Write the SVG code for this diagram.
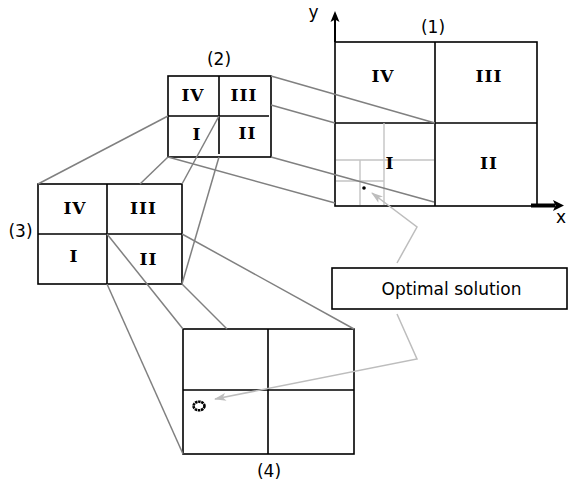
<svg xmlns="http://www.w3.org/2000/svg" width="573" height="486" viewBox="0 0 573 486">
  <style>
    .box { fill: #fff; stroke: #000; stroke-width: 1.6; }
    .div { fill: none; stroke: #000; stroke-width: 1.6; }
    .sub { fill: none; stroke: #c4c4c4; stroke-width: 1.4; }
    .link { fill: none; stroke: #808080; stroke-width: 1.5; }
    .pointer { fill: none; stroke: #bdbdbd; stroke-width: 1.5; }
    .num { font-family: "DejaVu Serif", "Liberation Serif", serif; font-weight: bold; font-size: 17px; letter-spacing: 1px; text-anchor: middle; fill: #000; }
    .lbl { font-family: "DejaVu Sans", "Liberation Sans", sans-serif; font-size: 17px; text-anchor: middle; fill: #000; }
  </style>
  <defs>
    <marker id="head" markerWidth="12" markerHeight="8" refX="11" refY="4" orient="auto" markerUnits="userSpaceOnUse">
      <path d="M0,0 L12,4 L0,8 L3,4 Z" fill="#bdbdbd"/>
    </marker>
  </defs>

  <rect width="573" height="486" fill="#fff"/>

  <!-- (1) full search domain with coordinate axes -->
  <g id="domain-1">
    <rect class="box" x="335" y="42" width="202" height="164"/>
    <path class="div" d="M435,42 V206 M335,123 H537"/>
    <!-- finer cells inside quadrant I -->
    <path class="sub" d="M384,123 V205 M336,160 H434 M360,160 V205 M336,181 H384"/>
    <circle cx="364" cy="188" r="1.8" fill="#000"/>
    <!-- axes -->
    <path d="M335,42 V19" stroke="#000" stroke-width="2" fill="none"/>
    <path d="M335,11 L339.5,22 L335,19.5 L330.5,22 Z" fill="#000"/>
    <path d="M531,205.5 H555" stroke="#000" stroke-width="4" fill="none"/>
    <path d="M564,205.5 L553,200 L555.5,205.5 L553,211 Z" fill="#000"/>
    <text class="lbl" x="313.5" y="18">y</text>
    <text class="lbl" x="561" y="223">x</text>
    <text class="lbl" x="433" y="33">(1)</text>
    <text class="num" x="383" y="82">IV</text>
    <text class="num" x="489" y="82">III</text>
    <text class="num" x="390" y="169">I</text>
    <text class="num" x="489" y="169">II</text>
  </g>

  <!-- (2) quadrant I of (1), enlarged -->
  <g id="domain-2">
    <rect class="box" x="168" y="76" width="103" height="81"/>
    <path class="div" d="M219,76 V154 M168,116 H269"/>
    <text class="lbl" x="219" y="65">(2)</text>
    <text class="num" x="193" y="101">IV</text>
    <text class="num" x="244" y="101">III</text>
    <text class="num" x="197" y="140">I</text>
    <text class="num" x="247.5" y="139">II</text>
  </g>

  <!-- (3) quadrant I of (2), enlarged -->
  <g id="domain-3">
    <rect class="box" x="38" y="184" width="144" height="100"/>
    <path class="div" d="M107,184 V284 M38,234 H182"/>
    <text class="lbl" x="20.5" y="237">(3)</text>
    <text class="num" x="75" y="214">IV</text>
    <text class="num" x="143.5" y="214">III</text>
    <text class="num" x="74" y="262">I</text>
    <text class="num" x="148.5" y="265">II</text>
  </g>

  <!-- (4) quadrant II of (3), enlarged -->
  <g id="domain-4">
    <rect class="box" x="183" y="329" width="171" height="125"/>
    <path class="div" d="M268,329 V454 M183,390 H354"/>
    <ellipse cx="199" cy="406" rx="5.5" ry="4.3" fill="none" stroke="#000" stroke-width="2.6" stroke-dasharray="2.5 0.6"/>
    <text class="lbl" x="269" y="477">(4)</text>
  </g>

  <!-- callout -->
  <g id="optimal-solution">
    <rect class="box" x="332" y="268" width="235" height="41"/>
    <text class="lbl" x="451.5" y="295">Optimal solution</text>
  </g>

  <!-- zoom projection lines and callout pointers -->
  <g id="connectors">
    <path class="link" d="M271,76 L435,123"/>
    <path class="link" d="M271,105 L335,123"/>
    <path class="link" d="M271,157 L434,202"/>
    <path class="link" d="M168,157 L335,203"/>
    <path class="link" d="M168,116 L38,184"/>
    <path class="link" d="M219,116 L182,184"/>
    <path class="link" d="M219,157 L182,284"/>
    <path class="link" d="M168,157 L140,184"/>
    <path class="link" d="M107,234 L183,329"/>
    <path class="link" d="M182,234 L354,329"/>
    <path class="link" d="M107,284 L183,454"/>
    <path class="link" d="M182,284 L227,329"/>
    <path class="pointer" d="M397,263 L417,227 L372,193" marker-end="url(#head)"/>
    <path class="pointer" d="M397,314 L417,359 L215,399" marker-end="url(#head)"/>
  </g>
</svg>
